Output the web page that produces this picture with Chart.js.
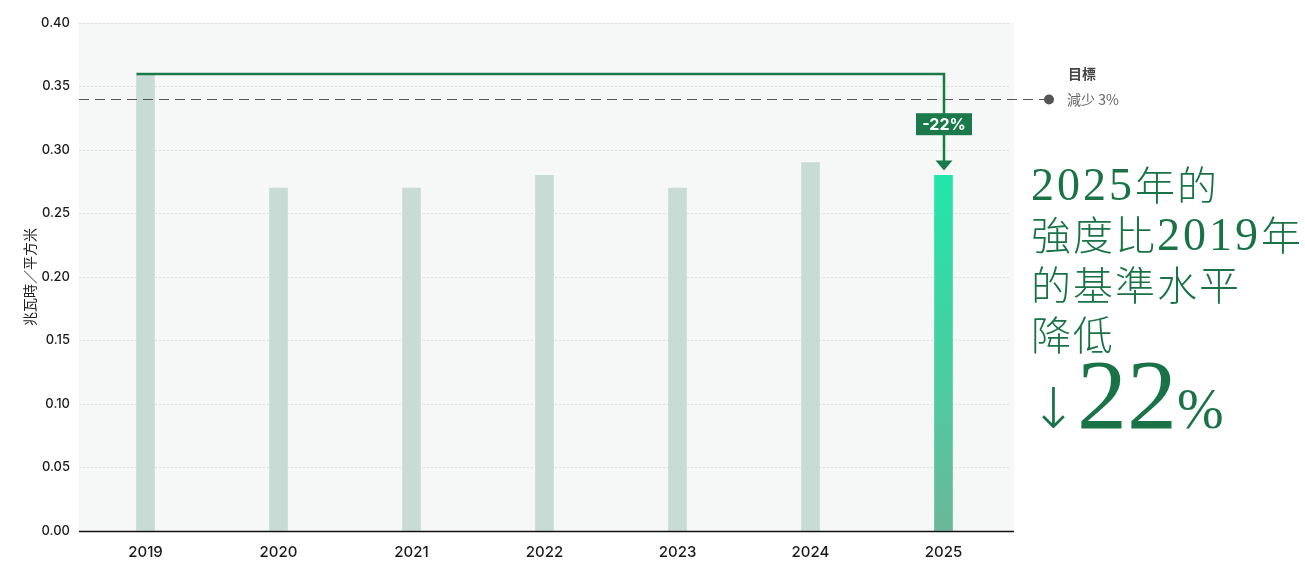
<!DOCTYPE html>
<html>
<head>
<meta charset="utf-8">
<script src="https://cdn.jsdelivr.net/npm/chart.js@4.4.1/dist/chart.umd.min.js"></script>
<style>
  html, body { margin: 0; padding: 0; background: #ffffff; }
  #wrap { position: relative; width: 1305px; height: 561px; overflow: hidden; }
  #c { position: absolute; left: 0; top: 0; }
  .big { position: absolute; left: 1031px; color: #1a7347; font-family: "Liberation Serif", "Noto Sans CJK TC", serif; font-weight: 300; white-space: nowrap; }
  .line { font-size: 40px; line-height: 47px; letter-spacing: 2px; }
  .line .cjk { font-family: "Noto Sans CJK TC", sans-serif; font-weight: 300; }
  .line .num { font-family: "Liberation Serif", serif; font-size: 46px; letter-spacing: 3px; }
</style>
</head>
<body>
<div id="wrap">
  <canvas id="c" width="1305" height="561"></canvas>
  <div class="big" style="top:160px;">
    <div class="line"><span class="num">2025</span><span class="cjk">年的</span></div>
    <div class="line"><span class="cjk">強度比</span><span class="num">2019</span><span class="cjk">年</span></div>
    <div class="line"><span class="cjk">的基準水平</span></div>
    <div class="line"><span class="cjk">降低</span></div>
  </div>
  <div class="big" style="top:345px; left:1030px; font-size:100px; line-height:100px;">
    <span style="font-size:56px; font-family:'DejaVu Sans'; font-weight:200;">↓</span><span>22</span><span style="font-size:56px;">%</span>
  </div>
</div>
<script>
const categories = ["2019", "2020", "2021", "2022", "2023", "2024", "2025"];
const intensity = [0.36, 0.27, 0.27, 0.28, 0.27, 0.29, 0.28];
const targetValue = 0.34;
const yTickLabels = ["0.00", "0.05", "0.10", "0.15", "0.20", "0.25", "0.30", "0.35", "0.40"];
const yTitle = "兆瓦時／平方米";
const targetTitle = "目標";
const targetLabel = "減少 3%";
const changeLabel = "-22%";

const GREEN = "#1b7a4b";
const BAR = "#c8dbd5";

const annot = {
  id: "annot",
  beforeDraw(chart) {
    const { ctx, chartArea: a } = chart;
    ctx.save();
    ctx.fillStyle = "#f6f8f7";
    ctx.fillRect(a.left, a.top, a.right + 4 - a.left, a.bottom - a.top);
    ctx.restore();
  },
  afterDatasetsDraw(chart) {
    const { ctx, chartArea: a, scales: { x, y } } = chart;
    ctx.save();
    ctx.strokeStyle = "#111";
    ctx.lineWidth = 1.6;
    ctx.beginPath();
    ctx.moveTo(a.left, a.bottom + 0.5);
    ctx.lineTo(a.right + 4, a.bottom + 0.5);
    ctx.stroke();

    const ty = Math.round(y.getPixelForValue(targetValue)) + 0.5;
    const endX = 1049;
    ctx.strokeStyle = "#555";
    ctx.lineWidth = 1.2;
    ctx.setLineDash([10, 6]);
    ctx.beginPath();
    ctx.moveTo(a.left, ty);
    ctx.lineTo(endX, ty);
    ctx.stroke();
    ctx.setLineDash([]);
    ctx.fillStyle = "#555";
    ctx.beginPath();
    ctx.arc(endX, ty, 5, 0, Math.PI * 2);
    ctx.fill();
    ctx.font = "bold 14px 'Noto Sans CJK TC', sans-serif";
    ctx.fillStyle = "#444";
    ctx.textBaseline = "middle";
    ctx.textAlign = "left";
    ctx.fillText(targetTitle, 1068, ty - 26);
    ctx.font = "14px 'Noto Sans CJK TC', sans-serif";
    ctx.fillStyle = "#666";
    ctx.fillText(targetLabel, 1067, ty);

    const meta = chart.getDatasetMeta(0);
    const b0 = meta.data[0];
    const bN = meta.data[meta.data.length - 1];
    const topY = Math.round(y.getPixelForValue(intensity[0]));
    const x0 = b0.x - b0.width / 2;
    const xN = Math.round(bN.x);
    const tipY = y.getPixelForValue(intensity[intensity.length - 1]) - 5;
    ctx.strokeStyle = GREEN;
    ctx.lineWidth = 2.5;
    ctx.beginPath();
    ctx.moveTo(x0, topY);
    ctx.lineTo(xN, topY);
    ctx.lineTo(xN, tipY - 4);
    ctx.stroke();
    ctx.fillStyle = GREEN;
    ctx.beginPath();
    ctx.moveTo(xN - 8.5, tipY - 10);
    ctx.lineTo(xN + 8.5, tipY - 10);
    ctx.lineTo(xN, tipY);
    ctx.closePath();
    ctx.fill();

    const by = (topY + tipY) / 2 + 2;
    ctx.fillStyle = GREEN;
    ctx.fillRect(xN - 28, by - 11, 56, 22);
    ctx.fillStyle = "#ffffff";
    ctx.font = "bold 16px Inter, 'Liberation Sans', sans-serif";
    ctx.textAlign = "center";
    ctx.textBaseline = "middle";
    ctx.fillText(changeLabel, xN, by + 1);
    ctx.restore();
  }
};

new Chart(document.getElementById("c"), {
  type: "bar",
  data: {
    labels: categories,
    datasets: [{
      data: intensity,
      barThickness: 18,
      borderWidth: 0,
      backgroundColor(ctx) {
        const chart = ctx.chart;
        if (ctx.dataIndex !== intensity.length - 1) return BAR;
        const a = chart.chartArea;
        if (!a) return "#4fd3a3";
        const y = chart.scales.y;
        const top = y.getPixelForValue(intensity[ctx.dataIndex]);
        const g = chart.ctx.createLinearGradient(0, top, 0, a.bottom);
        g.addColorStop(0, "#22e6a9");
        g.addColorStop(1, "#6bb79a");
        return g;
      }
    }]
  },
  options: {
    responsive: false,
    animation: false,
    layout: { padding: { top: 23, right: 295, bottom: 0, left: 0 } },
    plugins: { legend: { display: false }, tooltip: { enabled: false } },
    scales: {
      x: {
        grid: { display: false, drawTicks: false },
        border: { display: false },
        ticks: { color: "#1a1a1a", padding: 12, font: { family: "Inter, 'Liberation Sans', sans-serif", size: 15, weight: 500 } },
        afterFit(s) { s.height = 30; }
      },
      y: {
        min: 0, max: 0.4,
        grid: { color: "#dcdfdd", lineWidth: 1, drawTicks: false },
        border: { display: false, dash: [2, 2] },
        ticks: {
          stepSize: 0.05, color: "#1a1a1a", padding: 9,
          font: { family: "Inter, 'Liberation Sans', sans-serif", size: 13, weight: 500 },
          callback(v, i) { return yTickLabels[i]; }
        },
        title: {
          display: true, text: yTitle, color: "#222",
          font: { family: "'Noto Sans CJK TC', sans-serif", size: 14 },
          padding: { top: 21, bottom: 0 }
        },
        afterFit(s) { s.width = 79; }
      }
    }
  },
  plugins: [annot]
});
</script>
</body>
</html>
